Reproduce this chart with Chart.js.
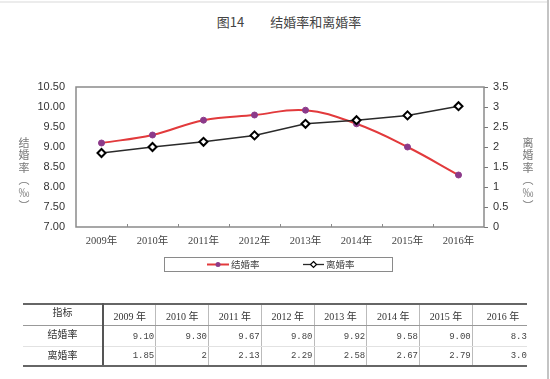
<!DOCTYPE html>
<html>
<head>
<meta charset="utf-8">
<script src="https://cdn.jsdelivr.net/npm/chart.js@4/dist/chart.umd.min.js"></script>
<style>
  html, body { margin:0; padding:0; background:#fff; }
  #wrap { position:relative; width:550px; height:379px; overflow:hidden; background:#fff;
          font-family:"Noto Sans CJK SC", "Liberation Sans", sans-serif; }
  #topline { position:absolute; left:0; top:1px; width:548px; height:2px; background:#ececec; }
  #rightline { position:absolute; left:547px; top:0; width:2px; height:379px; background:#c4c4c4; }
  #title { position:absolute; left:0; width:578px; top:13px; text-align:center; font-size:13px;
           color:#444; white-space:pre; line-height:18px; }
  canvas { position:absolute; left:0; top:0; }
  .vtitle { position:absolute; writing-mode:vertical-rl; font-size:11px; color:#777;
            letter-spacing:1.6px; line-height:11px; }
  #legend { position:absolute; left:164px; top:257px; width:227px; height:13px; border:1px solid #8a8a8a; }
  .litem { position:absolute; top:0; height:13px; font-size:9.5px; line-height:13px; color:#444; }
  #tablebox { position:absolute; left:23px; top:303px; width:504px; height:64px; overflow:hidden; }
  table { border-collapse:collapse; table-layout:fixed; font-size:9.5px; color:#333; }
  td { padding:0; line-height:11px; border-right:1px solid #bbb; border-bottom:1px solid #e2e2e2;
       overflow:hidden; white-space:nowrap; box-sizing:border-box; }
  tr.head td { height:21px; border-top:2px solid #666; border-bottom:1px solid #999; text-align:center; vertical-align:bottom; padding-bottom:3px;
               font-family:"Liberation Serif","Noto Sans CJK SC",serif; font-size:10px; }
  tr.mid td { height:21px; }
  tr.last td { height:20px; border-bottom:2px solid #666; }
  td.first { border-right:2px solid #555; text-align:center; vertical-align:top; padding-top:2px; padding-bottom:0;
             font-family:"Noto Sans CJK SC",sans-serif; font-size:10px; }
  tr.head td.first { vertical-align:top; padding-top:2px; padding-bottom:0; }
  td.val { text-align:right; vertical-align:bottom; padding-bottom:3px; padding-right:1px;
           font-family:"Liberation Mono","DejaVu Sans Mono",monospace; font-size:9px; color:#444; }
</style>
</head>
<body>
<div id="wrap">
  <div id="topline"></div>
  <div id="rightline"></div>
  <div id="title"></div>
  <canvas id="c" width="550" height="379"></canvas>
  <div class="vtitle" id="ltitle" style="left:18px; top:137px;"></div>
  <div class="vtitle" id="rtitle" style="left:522px; top:137px;"></div>
  <div id="legend"></div>
  <div id="tablebox"><table id="tbl"></table></div>
</div>
<script>
// ---- data ----
const years = ['2009', '2010', '2011', '2012', '2013', '2014', '2015', '2016'];
const marriageRate = [9.10, 9.30, 9.67, 9.80, 9.92, 9.58, 9.00, 8.30];
const divorceRate = [1.85, 2.00, 2.13, 2.29, 2.58, 2.67, 2.79, 3.02];
const seriesNames = ['结婚率', '离婚率'];
const leftTicks = [7.00, 7.50, 8.00, 8.50, 9.00, 9.50, 10.00, 10.50];
const rightTicks = [0, 0.5, 1, 1.5, 2, 2.5, 3, 3.5];
const titleText = '图14　　结婚率和离婚率';
const leftAxisTitle = '结婚率（‰）';
const rightAxisTitle = '离婚率（‰）';
const tableHeader = '指标';

const RED = '#e23a3c', PURPLE = '#8c3a8a', BLACK = '#2a2a2a';

document.getElementById('title').textContent = titleText;
document.getElementById('ltitle').textContent = leftAxisTitle;
document.getElementById('rtitle').textContent = rightAxisTitle;

// legend
const legend = document.getElementById('legend');
legend.innerHTML =
  '<svg style="position:absolute;left:42px;top:0" width="22" height="13">' +
  '<line x1="0" y1="6.5" x2="22" y2="6.5" stroke="' + RED + '" stroke-width="2"/>' +
  '<circle cx="11" cy="6.5" r="2.5" fill="' + PURPLE + '"/></svg>' +
  '<span class="litem" style="left:66px">' + seriesNames[0] + '</span>' +
  '<svg style="position:absolute;left:138px;top:0" width="21" height="13">' +
  '<line x1="0" y1="6.5" x2="21" y2="6.5" stroke="' + BLACK + '" stroke-width="1.3"/>' +
  '<path d="M10.5 3.5 L13.5 6.5 L10.5 9.5 L7.5 6.5 Z" fill="#fff" stroke="#000" stroke-width="1.2"/></svg>' +
  '<span class="litem" style="left:161px">' + seriesNames[1] + '</span>';

// table
const tbl = document.getElementById('tbl');
const colW = [80].concat(years.map((y, i) => i === years.length - 1 ? 61.5 : 52.75));
let html = '<colgroup>' + colW.map(w => '<col style="width:' + w + 'px">').join('') + '</colgroup>';
html += '<tr class="head"><td class="first">' + tableHeader + '</td>' +
        years.map(y => '<td>' + y + ' 年</td>').join('') + '</tr>';
html += '<tr class="mid"><td class="first">' + seriesNames[0] + '</td>' +
        marriageRate.map(v => '<td class="val">' + v.toFixed(2) + '</td>').join('') + '</tr>';
html += '<tr class="last"><td class="first">' + seriesNames[1] + '</td>' +
        divorceRate.map(v => '<td class="val">' + String(v) + '</td>').join('') + '</tr>';
tbl.innerHTML = html;
tbl.style.width = colW.reduce((a, b) => a + b, 0) + 'px';

// chart
const boxPlugin = {
  id: 'box',
  afterDatasetsDraw(chart) {
    const { ctx, chartArea: a, scales } = chart;
    ctx.save();
    ctx.strokeStyle = '#8a8a8a';
    ctx.lineWidth = 1.5;
    ctx.strokeRect(a.left, a.top, a.right - a.left, a.bottom - a.top);
    const x = scales.x;
    ctx.lineWidth = 1;
    ctx.beginPath();
    for (let i = 1; i < years.length; i++) {
      const px = Math.round((x.getPixelForTick(i - 1) + x.getPixelForTick(i)) / 2) + 0.5;
      ctx.moveTo(px, a.bottom);
      ctx.lineTo(px, a.bottom - 3);
    }
    ctx.stroke();
    ctx.restore();
  }
};

new Chart(document.getElementById('c'), {
  type: 'line',
  data: {
    labels: years.map(y => y + '年'),
    datasets: [
      {
        label: seriesNames[0],
        data: marriageRate,
        yAxisID: 'y',
        borderColor: RED,
        borderWidth: 2,
        tension: 0.4,
        pointRadius: 3,
        pointBackgroundColor: PURPLE,
        pointBorderColor: PURPLE,
        pointBorderWidth: 1,
        order: 1
      },
      {
        label: seriesNames[1],
        data: divorceRate,
        yAxisID: 'y2',
        borderColor: BLACK,
        borderWidth: 1.5,
        tension: 0,
        pointStyle: 'rectRot',
        pointRadius: 4,
        pointBackgroundColor: '#fff',
        pointBorderColor: '#000',
        pointBorderWidth: 2,
        order: 0
      }
    ]
  },
  options: {
    responsive: false,
    animation: false,
    events: [],
    layout: { padding: { left: 0, right: 0, top: 87, bottom: 132 } },
    plugins: { legend: { display: false }, tooltip: { enabled: false }, title: { display: false } },
    scales: {
      x: {
        type: 'category',
        offset: true,
        grid: { display: false, drawTicks: false },
        border: { display: false },
        ticks: { padding: 8, color: '#444', maxRotation: 0, autoSkip: false,
                 font: { family: '"Liberation Serif", "Noto Sans CJK SC", serif', size: 10.5 } },
        afterFit: s => { s.height = 20; }
      },
      y: {
        position: 'left',
        min: leftTicks[0], max: leftTicks[leftTicks.length - 1],
        afterBuildTicks: s => { s.ticks = leftTicks.map(v => ({ value: v })); },
        grid: { display: false, drawTicks: false },
        border: { display: false },
        ticks: { padding: 11, color: '#333', callback: v => Number(v).toFixed(2),
                 font: { family: '"Liberation Sans", Arial, sans-serif', size: 11 } },
        afterFit: s => { s.width = 76; }
      },
      y2: {
        position: 'right',
        min: rightTicks[0], max: rightTicks[rightTicks.length - 1],
        afterBuildTicks: s => { s.ticks = rightTicks.map(v => ({ value: v })); },
        grid: { display: true, drawOnChartArea: false, drawTicks: true, tickLength: 4, color: '#777' },
        border: { display: false },
        ticks: { padding: 5, color: '#333', callback: v => String(v),
                 font: { family: '"Liberation Sans", Arial, sans-serif', size: 11 } },
        afterFit: s => { s.width = 66; }
      }
    }
  },
  plugins: [boxPlugin]
});
</script>
</body>
</html>
